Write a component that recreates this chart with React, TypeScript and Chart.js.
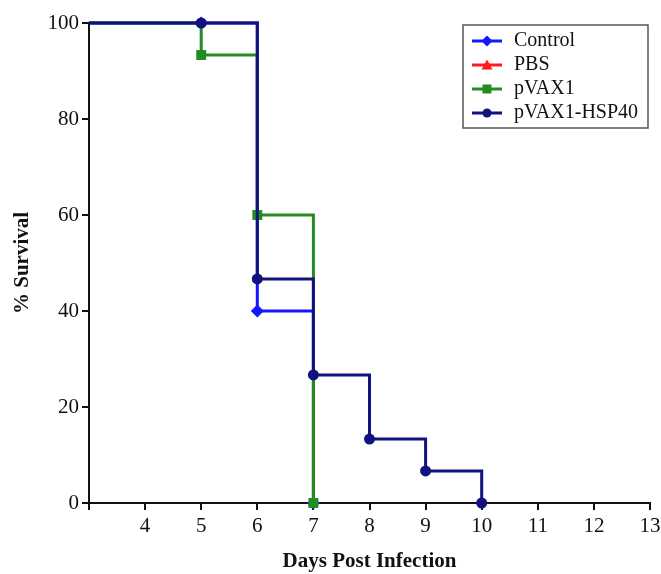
import React, { useEffect, useRef } from "react";
import { Chart, registerables } from "chart.js";

Chart.register(...registerables);

// ---- data ----
const seriesNames = ["Control", "PBS", "pVAX1", "pVAX1-HSP40"];
const controlDays = [3, 5, 6, 7];
const controlSurvival = [100, 100, 40, 0];
const pbsDays = [3, 5, 6, 7];
const pbsSurvival = [100, 100, 46.67, 0];
const pvaxDays = [3, 5, 6, 7];
const pvaxSurvival = [100, 93.33, 60, 0];
const hspDays = [3, 5, 6, 7, 8, 9, 10];
const hspSurvival = [100, 100, 46.67, 26.67, 13.33, 6.67, 0];
const xTickValues = [3, 4, 5, 6, 7, 8, 9, 10, 11, 12, 13];
const yTickValues = [0, 20, 40, 60, 80, 100];

const colors = ["#1515ff", "#ff1a1a", "#228b22", "#12127e"];
const styles = ["rectRot", "triangle", "rect", "circle"];
const radii = [6.5, 6, 7, 5.5];
const lineWidths = [3, 2, 3, 3];
const orders = [3, 2, 1, 0];

const FONT = "'Liberation Serif', 'Times New Roman', serif";

function drawMarker(ctx: CanvasRenderingContext2D, style: string, x: number, y: number, r: number, color: string) {
  ctx.save();
  ctx.fillStyle = color;
  ctx.beginPath();
  if (style === "circle") {
    ctx.arc(x, y, r, 0, Math.PI * 2);
  } else if (style === "rect") {
    ctx.rect(x - r, y - r, 2 * r, 2 * r);
  } else if (style === "rectRot") {
    ctx.moveTo(x, y - r - 1);
    ctx.lineTo(x + r + 1, y);
    ctx.lineTo(x, y + r + 1);
    ctx.lineTo(x - r - 1, y);
    ctx.closePath();
  } else if (style === "triangle") {
    ctx.moveTo(x, y - r - 1);
    ctx.lineTo(x + r + 1, y + r);
    ctx.lineTo(x - r - 1, y + r);
    ctx.closePath();
  }
  ctx.fill();
  ctx.restore();
}

const legendPlugin = {
  id: "boxLegend",
  afterDraw(chart: any) {
    const ctx: CanvasRenderingContext2D = chart.ctx;
    const bx = 463, by = 25, bw = 185, bh = 103;
    ctx.save();
    ctx.fillStyle = "#ffffff";
    ctx.fillRect(bx, by, bw, bh);
    ctx.strokeStyle = "#555555";
    ctx.lineWidth = 1.5;
    ctx.strokeRect(bx, by, bw, bh);
    const rowY = [41, 65, 89, 113];
    chart.data.datasets.forEach((ds: any, i: number) => {
      const y = rowY[i];
      ctx.strokeStyle = ds.borderColor;
      ctx.lineWidth = 3;
      ctx.beginPath();
      ctx.moveTo(472, y);
      ctx.lineTo(502, y);
      ctx.stroke();
      drawMarker(ctx, styles[i], 487, y, 4.5, ds.borderColor);
      ctx.fillStyle = "#111111";
      ctx.font = `20px ${FONT}`;
      ctx.textBaseline = "middle";
      ctx.textAlign = "left";
      ctx.fillText(ds.label, 514, y);
    });
    ctx.restore();
  },
};

function toPoints(xs: number[], ys: number[]) {
  return xs.map((x, i) => ({ x, y: ys[i] }));
}

export default function App() {
  const ref = useRef<HTMLCanvasElement | null>(null);

  useEffect(() => {
    document.body.style.margin = "0";
    const series = [
      toPoints(controlDays, controlSurvival),
      toPoints(pbsDays, pbsSurvival),
      toPoints(pvaxDays, pvaxSurvival),
      toPoints(hspDays, hspSurvival),
    ];
    const datasets = series.map((pts, i) => ({
      label: seriesNames[i],
      data: pts,
      borderColor: colors[i],
      backgroundColor: colors[i],
      borderWidth: lineWidths[i],
      stepped: "before" as const,
      pointStyle: styles[i],
      pointRadius: pts.map((_, j) => (j === 0 ? 0 : radii[i])),
      pointHoverRadius: 0,
      pointBorderWidth: 0,
      order: orders[i],
      clip: false as any,
      fill: false,
    }));

    const chart = new Chart(ref.current as HTMLCanvasElement, {
      type: "line",
      data: { datasets },
      options: {
        animation: false,
        responsive: true,
        maintainAspectRatio: false,
        layout: { padding: { left: 0, right: 11, top: 23, bottom: 0 } },
        plugins: {
          legend: { display: false },
          tooltip: { enabled: false },
        },
        scales: {
          x: {
            type: "linear",
            min: 3,
            max: 13,
            afterFit: (scale: any) => {
              scale.height = 71;
              scale.paddingRight = 0;
              scale.paddingLeft = 0;
            },
            afterBuildTicks: (scale: any) => {
              scale.ticks = xTickValues.map((v) => ({ value: v }));
            },
            ticks: {
              color: "#111",
              font: { family: FONT, size: 21 },
              padding: 4,
              maxRotation: 0,
              autoSkip: false,
              callback: (v: any) => (v === 3 ? "" : String(v)),
            },
            grid: {
              display: true,
              drawOnChartArea: false,
              drawTicks: true,
              tickLength: 7,
              color: "#111",
              lineWidth: 2,
            },
            border: { display: true, color: "#111", width: 2 },
            title: {
              display: true,
              text: "Days Post Infection",
              color: "#111",
              font: { family: FONT, size: 21, weight: "bold" },
              padding: { top: 0, bottom: 0 },
            },
          },
          y: {
            type: "linear",
            min: 0,
            max: 100,
            afterFit: (scale: any) => {
              scale.width = 89;
            },
            afterBuildTicks: (scale: any) => {
              scale.ticks = yTickValues.map((v) => ({ value: v }));
            },
            ticks: {
              color: "#111",
              font: { family: FONT, size: 21 },
              padding: 3,
            },
            grid: {
              display: true,
              drawOnChartArea: false,
              drawTicks: true,
              tickLength: 7,
              color: "#111",
              lineWidth: 2,
            },
            border: { display: true, color: "#111", width: 2 },
            title: {
              display: true,
              text: "% Survival",
              color: "#111",
              font: { family: FONT, size: 21, weight: "bold" },
              padding: { top: 10, bottom: 0 },
            },
          },
        },
      },
      plugins: [legendPlugin],
    });
    return () => chart.destroy();
  }, []);

  return (
    <div style={{ position: "fixed", left: 0, top: 0, width: 661, height: 574, background: "#fff" }}>
      <canvas ref={ref} />
    </div>
  );
}
